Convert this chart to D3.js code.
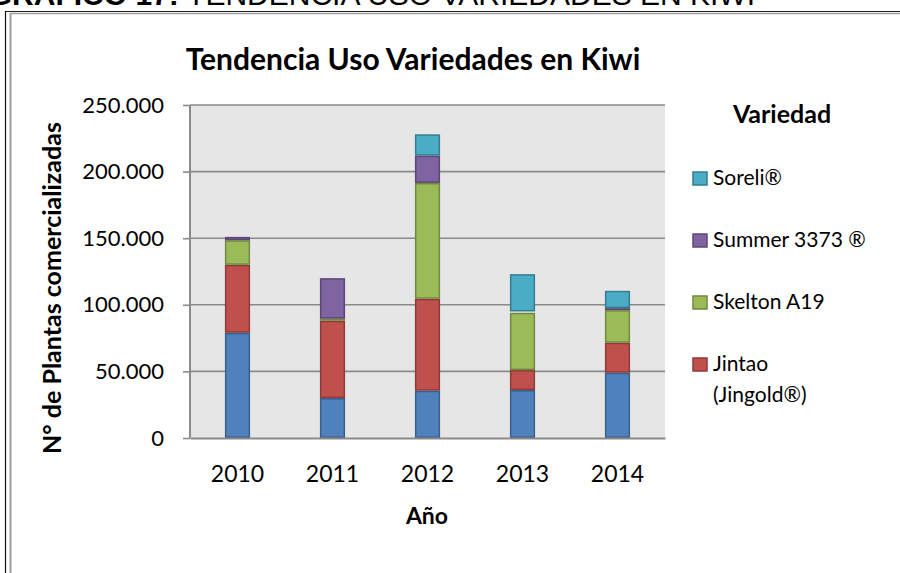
<!DOCTYPE html>
<html>
<head>
<meta charset="utf-8">
<script src="https://cdn.jsdelivr.net/npm/d3@7"></script>
<style>
  html, body { margin: 0; padding: 0; background: #fff; }
  svg { display: block; }
</style>
</head>
<body>
<svg id="chart" width="900" height="573"></svg>
<script>
// ── données ───────────────────────────────────────────────────────────────
const years = ['2010', '2011', '2012', '2013', '2014'];

// séries empilées, de bas en haut
const seriesKeys   = ['Hayward', 'Jintao', 'Skelton', 'Summer', 'Soreli'];
const hayward      = [79000, 30000, 35500, 36000, 49000];
const jintao       = [51000, 58000, 69000, 15000, 22500];
const skelton      = [18500,  1500, 87000, 43000, 24500];
const summer       = [ 2500, 30500, 20500,  1000,  1500];
const soreli       = [    0,     0, 16000, 28000, 13000];

// légende (ordre affiché, de haut en bas) — la série bleue n'y figure pas
const legendKeys   = ['Soreli', 'Summer', 'Skelton', 'Jintao'];
const legendLabels = [['Soreli®'], ['Summer 3373 ®'], ['Skelton A19'], ['Jintao', '(Jingold®)']];

const yTicks = [0, 50000, 100000, 150000, 200000, 250000];

const fills   = { Hayward: '#4f81bd', Jintao: '#c0504d', Skelton: '#9bbb59', Summer: '#8064a2', Soreli: '#4bacc6' };
const strokes = { Hayward: '#3a5f8c', Jintao: '#8e3a38', Skelton: '#71893f', Summer: '#5c4776', Soreli: '#357d91' };

const rows = years.map((y, i) => ({
  year: y, Hayward: hayward[i], Jintao: jintao[i], Skelton: skelton[i], Summer: summer[i], Soreli: soreli[i]
}));

// ── mise en page ──────────────────────────────────────────────────────────
const FONT = "Lato, 'Open Sans', sans-serif";
const plot = { left: 190, right: 665, top: 105, bottom: 438 };

const svg = d3.select('#chart');

// en-tête coupé en haut de page
const head = svg.append('text')
  .attr('x', 755).attr('y', 5)
  .attr('text-anchor', 'end')
  .attr('font-family', "'Liberation Sans', Arial, sans-serif")
  .attr('font-size', 30).attr('fill', '#000');
head.append('tspan').attr('font-weight', 700).text('GRAFICO 17: ');
head.append('tspan').text('TENDENCIA USO VARIEDADES EN KIWI');

// cadre
svg.append('line').attr('x1', 5).attr('x2', 900).attr('y1', 11.5).attr('y2', 11.5)
  .attr('stroke', '#222').attr('stroke-width', 1);
svg.append('line').attr('x1', 10).attr('x2', 900).attr('y1', 13.5).attr('y2', 13.5)
  .attr('stroke', '#a0a0a0').attr('stroke-width', 1.5);
svg.append('line').attr('x1', 5.5).attr('x2', 5.5).attr('y1', 11).attr('y2', 573)
  .attr('stroke', '#111').attr('stroke-width', 1.2);
svg.append('line').attr('x1', 10.5).attr('x2', 10.5).attr('y1', 13).attr('y2', 573)
  .attr('stroke', '#a0a0a0').attr('stroke-width', 2);

// échelles
const x = d3.scaleBand().domain(years).range([plot.left, plot.right])
  .paddingInner(0.735).paddingOuter(0.3675);
const y = d3.scaleLinear().domain([0, 250000]).range([plot.bottom, plot.top]);

const loc = d3.formatLocale({ decimal: ',', thousands: '.', grouping: [3], currency: ['', ''] });
const fmt = loc.format(',');

// fond de la zone de tracé
svg.append('rect')
  .attr('x', plot.left).attr('y', plot.top)
  .attr('width', plot.right - plot.left).attr('height', plot.bottom - plot.top)
  .attr('fill', '#e6e6e6');

// grille horizontale
svg.append('g').selectAll('line').data(yTicks.filter(d => d > 0)).enter().append('line')
  .attr('x1', plot.left).attr('x2', plot.right)
  .attr('y1', d => y(d)).attr('y2', d => y(d))
  .attr('stroke', '#8a8a8a').attr('stroke-width', 1.6);

// barres empilées
const stacked = d3.stack().keys(seriesKeys)(rows);
svg.append('g').selectAll('g').data(stacked).enter().append('g')
  .attr('fill', s => fills[s.key]).attr('stroke', s => strokes[s.key])
  .selectAll('rect').data(s => s.filter(d => d[1] > d[0])).enter().append('rect')
  .attr('x', d => x(d.data.year) + 0.75)
  .attr('width', x.bandwidth() - 1.5)
  .attr('y', d => y(d[1]) + 0.75)
  .attr('height', d => Math.max(0, y(d[0]) - y(d[1]) - 1.5))
  .attr('stroke-width', 1.5);

// axe Y
const gy = svg.append('g').attr('transform', `translate(${plot.left},0)`)
  .call(d3.axisLeft(y).tickValues(yTicks).tickFormat(fmt).tickSize(7).tickPadding(19));
gy.select('.domain').attr('stroke', '#8a8a8a').attr('stroke-width', 2)
  .attr('d', `M0,${plot.top}V${plot.bottom}`);
gy.selectAll('.tick line').attr('stroke', '#8a8a8a').attr('stroke-width', 1.6);
gy.selectAll('.tick text').attr('font-family', FONT).attr('font-size', 22).attr('fill', '#000');

// axe X
const gx = svg.append('g').attr('transform', `translate(0,${plot.bottom})`)
  .call(d3.axisBottom(x).tickSize(0).tickPadding(28));
gx.select('.domain').attr('stroke', '#8a8a8a').attr('stroke-width', 2.2);
gx.selectAll('.tick text').attr('font-family', FONT).attr('font-size', 23).attr('fill', '#000');

// titres
svg.append('text').attr('x', 413).attr('y', 70).attr('text-anchor', 'middle')
  .attr('font-family', FONT).attr('font-weight', 700).attr('font-size', 30)
  .text('Tendencia Uso Variedades en Kiwi');

svg.append('text').attr('x', 427).attr('y', 524).attr('text-anchor', 'middle')
  .attr('font-family', FONT).attr('font-weight', 700).attr('font-size', 23)
  .text('Año');

svg.append('text')
  .attr('transform', 'translate(61,288) rotate(-90)')
  .attr('text-anchor', 'middle')
  .attr('font-family', FONT).attr('font-weight', 700).attr('font-size', 25)
  .text('N° de Plantas comercializadas');

// légende
svg.append('text').attr('x', 782).attr('y', 123).attr('text-anchor', 'middle')
  .attr('font-family', FONT).attr('font-weight', 700).attr('font-size', 25)
  .text('Variedad');

const leg = svg.append('g').selectAll('g').data(legendKeys).enter().append('g')
  .attr('transform', (d, i) => `translate(693,${172 + i * 62})`);
leg.append('rect').attr('width', 14).attr('height', 13)
  .attr('fill', d => fills[d]).attr('stroke', d => strokes[d]).attr('stroke-width', 1.5);
leg.append('text')
  .attr('font-family', FONT).attr('font-size', 21).attr('fill', '#000')
  .selectAll('tspan').data((d, i) => legendLabels[i]).enter().append('tspan')
  .attr('x', 20).attr('y', (d, j) => 13 + j * 31)
  .text(d => d);
</script>
</body>
</html>
